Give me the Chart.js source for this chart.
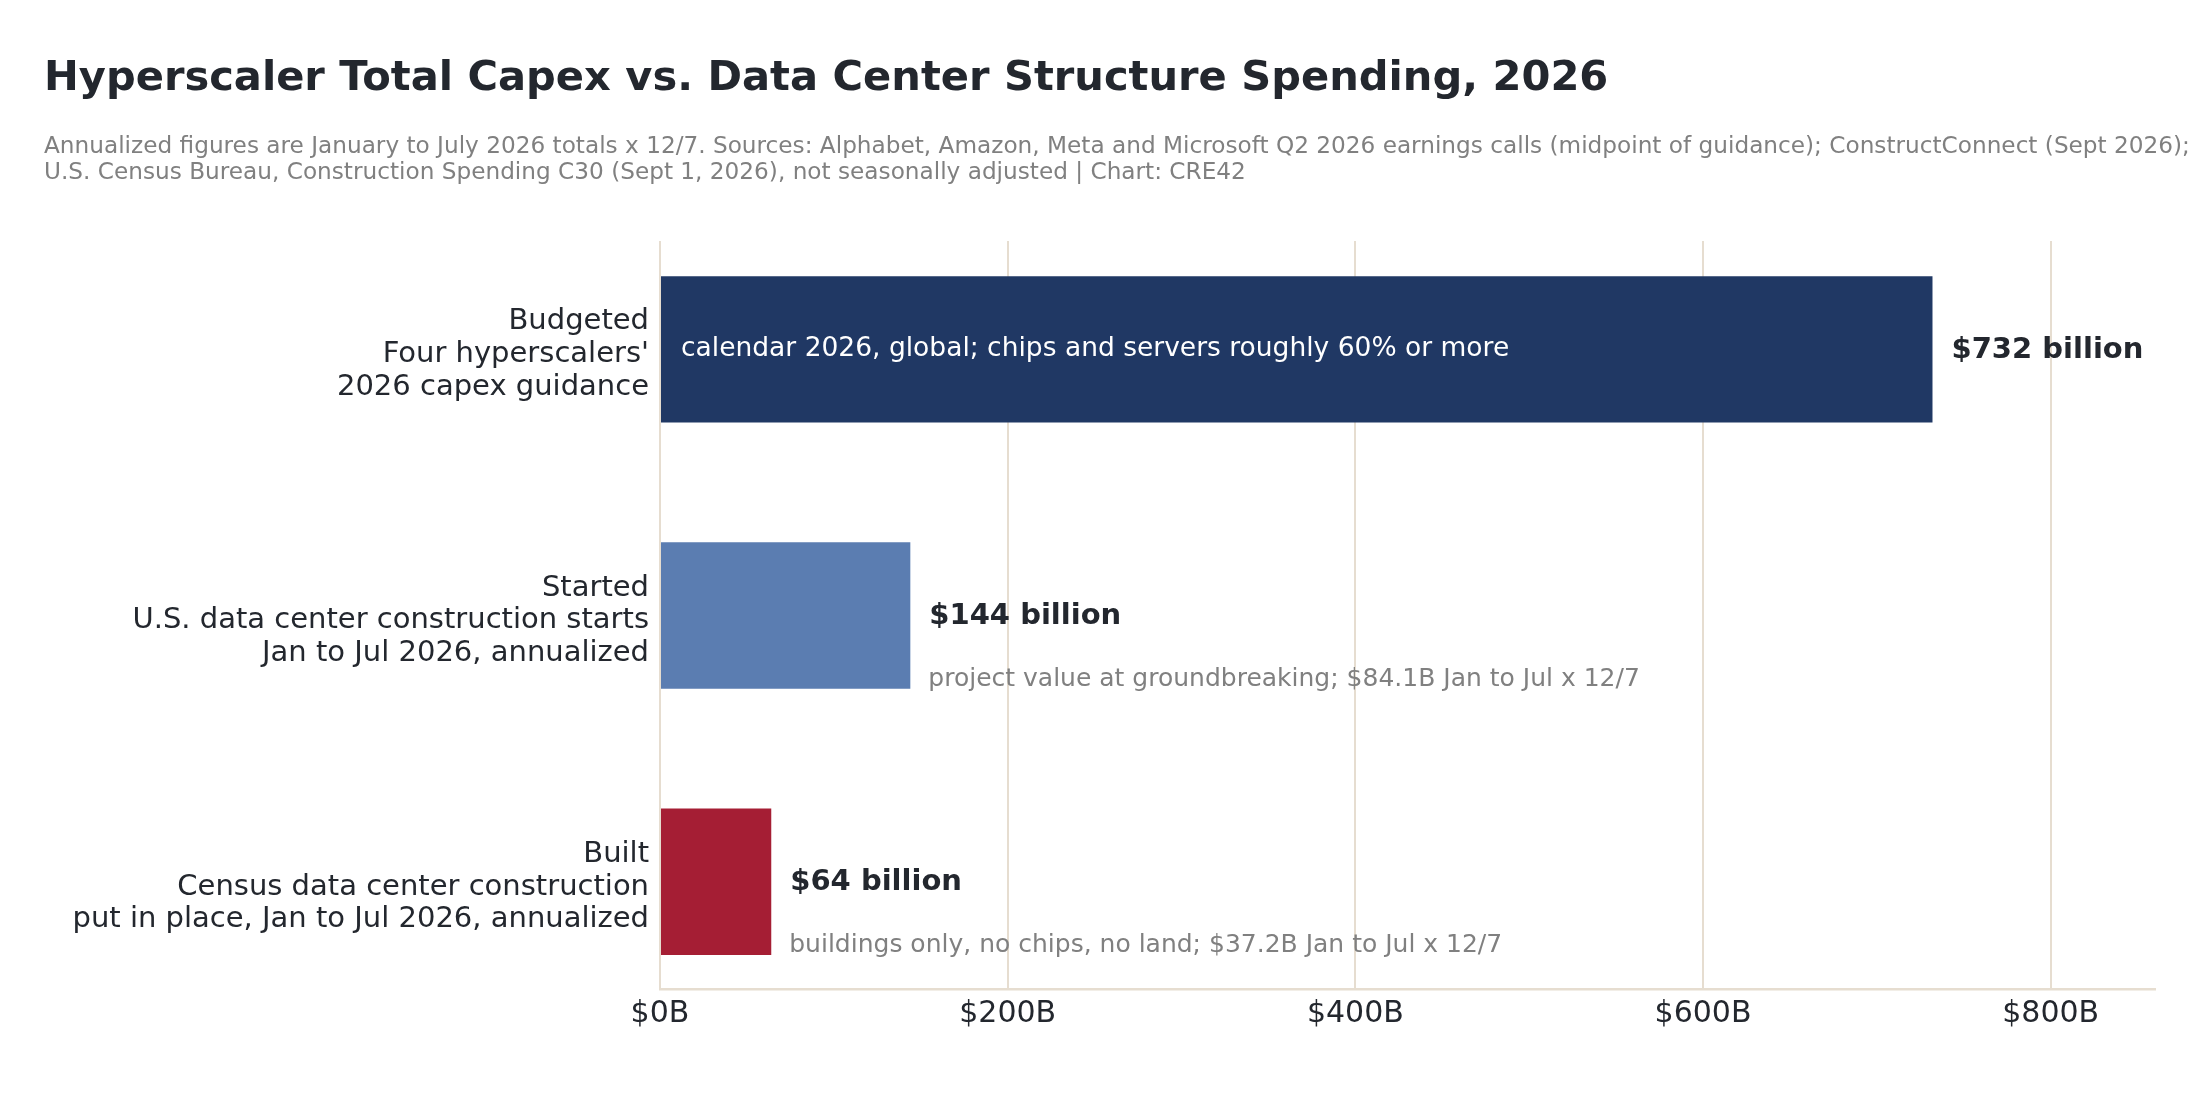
<!DOCTYPE html>
<html>
<head>
<meta charset="utf-8">
<script src="https://cdn.jsdelivr.net/npm/chart.js@4.4.1/dist/chart.umd.min.js"></script>
<style>
  body { margin: 0; background: #fff; }
  #wrap { width: 2200px; height: 1100px; }
</style>
</head>
<body>
<div id="wrap"><canvas id="capexChart" width="2200" height="1100"></canvas></div>
<script>
  var categories = [
    ['Budgeted', "Four hyperscalers'", '2026 capex guidance'],
    ['Started', 'U.S. data center construction starts', 'Jan to Jul 2026, annualized'],
    ['Built', 'Census data center construction', 'put in place, Jan to Jul 2026, annualized']
  ];
  var spending = [732, 144, 64];
  var valueLabels = ['$732 billion', '$144 billion', '$64 billion'];
  var notes = [
    'calendar 2026, global; chips and servers roughly 60% or more',
    'project value at groundbreaking; $84.1B Jan to Jul x 12/7',
    'buildings only, no chips, no land; $37.2B Jan to Jul x 12/7'
  ];
  var xTicks = [0, 200, 400, 600, 800];

  var titleText = 'Hyperscaler Total Capex vs. Data Center Structure Spending, 2026';
  var subtitleLines = [
    'Annualized figures are January to July 2026 totals x 12/7. Sources: Alphabet, Amazon, Meta and Microsoft Q2 2026 earnings calls (midpoint of guidance); ConstructConnect (Sept 2026);',
    'U.S. Census Bureau, Construction Spending C30 (Sept 1, 2026), not seasonally adjusted | Chart: CRE42'
  ];

  var barColors = ['#203864', '#5b7db1', '#a51e34'];
  var dark = '#23272e';
  var grey = '#808080';
  var gridColor = '#e6ddd0';
  var fam = '"DejaVu Sans", sans-serif';

  var points = spending.map(function(v, i){ return {x: v, y: i}; });

  // title, subtitle and bar annotations
  var textPlugin = {
    id: 'texts',
    afterDraw: function(chart){
      var ctx = chart.ctx;
      ctx.save();
      ctx.textAlign = 'left';
      ctx.textBaseline = 'alphabetic';
      ctx.fillStyle = dark;
      ctx.font = 'bold 41.6px ' + fam;
      ctx.fillText(titleText, 44, 90);
      ctx.fillStyle = grey;
      ctx.font = '23.2px ' + fam;
      subtitleLines.forEach(function(line, i){
        ctx.fillText(line, 44, 153 + i * 26);
      });

      var meta = chart.getDatasetMeta(0);
      meta.data.forEach(function(bar, i){
        ctx.textBaseline = 'middle';
        ctx.fillStyle = dark;
        ctx.font = 'bold 29px ' + fam;
        ctx.fillText(valueLabels[i], bar.x + 19, bar.y + 1);
        if (i === 0) {
          ctx.fillStyle = '#ffffff';
          ctx.font = '26.5px ' + fam;
          ctx.fillText(notes[i], bar.base + 20, bar.y);
        } else {
          ctx.fillStyle = grey;
          ctx.font = '25px ' + fam;
          ctx.fillText(notes[i], bar.x + 18, bar.y + 64);
        }
      });
      ctx.restore();
    }
  };

  new Chart(document.getElementById('capexChart'), {
    type: 'bar',
    data: {
      datasets: [{
        data: points,
        backgroundColor: barColors,
        borderWidth: 0,
        barPercentage: 0.55,
        categoryPercentage: 1
      }]
    },
    options: {
      indexAxis: 'y',
      responsive: false,
      animation: false,
      devicePixelRatio: 1,
      layout: { padding: { top: 241, right: 45, bottom: 0, left: 0 } },
      plugins: {
        legend: { display: false },
        tooltip: { enabled: false },
        title: { display: false }
      },
      scales: {
        x: {
          type: 'linear',
          min: 0,
          max: 860,
          afterBuildTicks: function(scale){
            scale.ticks = xTicks.map(function(v){ return {value: v}; });
          },
          afterFit: function(scale){ scale.height = 111; },
          grid: { color: gridColor, lineWidth: 2, drawTicks: false },
          border: { display: true, color: gridColor, width: 2.5 },
          ticks: {
            color: dark,
            padding: 7,
            font: { family: fam, size: 30 },
            callback: function(v){ return '$' + v + 'B'; }
          }
        },
        y: {
          type: 'linear',
          offset: false,
          reverse: true,
          min: -0.407,
          max: 2.403,
          // labels sit a touch below the bar centre in the original
          afterBuildTicks: function(scale){
            scale.ticks = categories.map(function(c, i){ return {value: i + 0.02}; });
          },
          afterFit: function(scale){ scale.width = 660; },
          grid: { display: false, drawTicks: false },
          border: { display: false },
          ticks: {
            color: dark,
            padding: 11,
            font: { family: fam, size: 29, lineHeight: 1.13 },
            callback: function(v){ return categories[Math.round(v)]; }
          }
        }
      }
    },
    plugins: [textPlugin]
  });
</script>
</body>
</html>
